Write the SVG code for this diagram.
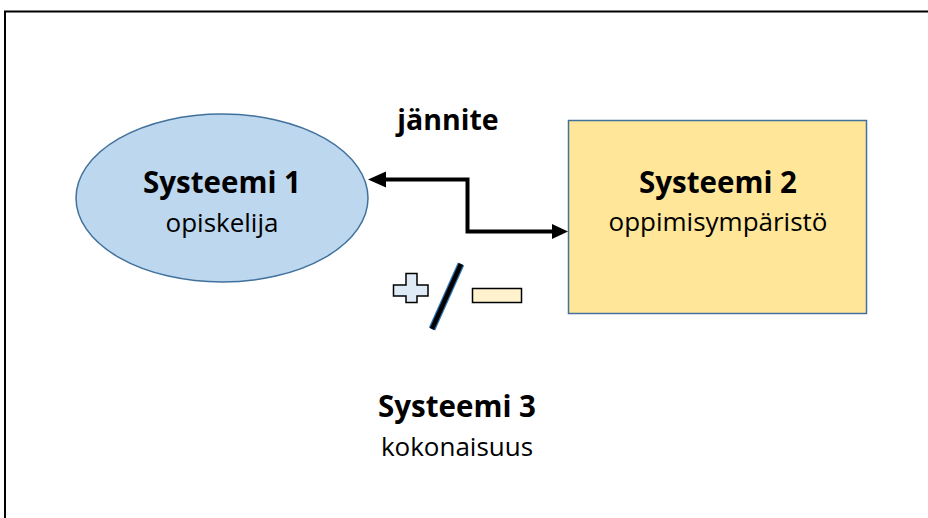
<svg xmlns="http://www.w3.org/2000/svg" width="928" height="518" viewBox="0 0 928 518">
<style>
text{font-family:"Open Sans","Liberation Sans",sans-serif;fill:#000;text-anchor:middle}
.b{font-weight:bold;font-size:29.5px}
.n{font-size:26px}
.head{fill:#000}
</style>
<rect x="0" y="0" width="928" height="518" fill="#fff"/>
<rect x="5" y="11.5" width="940" height="520" fill="none" stroke="#000" stroke-width="2"/>
<g id="systeemi1">
<ellipse cx="222" cy="198" rx="146" ry="84" fill="#BDD7EE" stroke="#41719C" stroke-width="1.5"/>
<text class="b" x="222" y="193">Systeemi 1</text>
<text class="n" x="222" y="232">opiskelija</text>
</g>
<g id="systeemi2">
<rect x="568.5" y="120.5" width="298" height="193" fill="#FFE699" stroke="#41719C" stroke-width="1.5"/>
<text class="b" x="718" y="193">Systeemi 2</text>
<text class="n" x="718" y="231">oppimisympäristö</text>
</g>
<g id="connectors">
<path d="M384,179.5 H467.5 V231.5 H554" fill="none" stroke="#000" stroke-width="4"/>
<polygon class="head" points="368,179.5 386,171.5 386,187.5"/>
<polygon class="head" points="568,231.5 552,224 552,239"/>
<text class="b" x="448" y="130" style="font-size:28.5px">jännite</text>
</g>
<g id="plusminus">
<path d="M406,273.5 H417 V285 H428 V296 H417 V302.5 H406 V296 H393.5 V285 H406 Z" fill="#DEEBF7" stroke="#000" stroke-width="1.5"/>
<line x1="432" y1="329" x2="461" y2="264" stroke="#2E75B6" stroke-width="7"/>
<line x1="432" y1="329" x2="461" y2="264" stroke="#000" stroke-width="4.5"/>
<rect x="472.5" y="288.5" width="49" height="14" fill="#FFF2CC" stroke="#000" stroke-width="1.5"/>
</g>
<g id="systeemi3">
<text class="b" x="457" y="417">Systeemi 3</text>
<text class="n" x="457" y="456">kokonaisuus</text>
</g>
</svg>
